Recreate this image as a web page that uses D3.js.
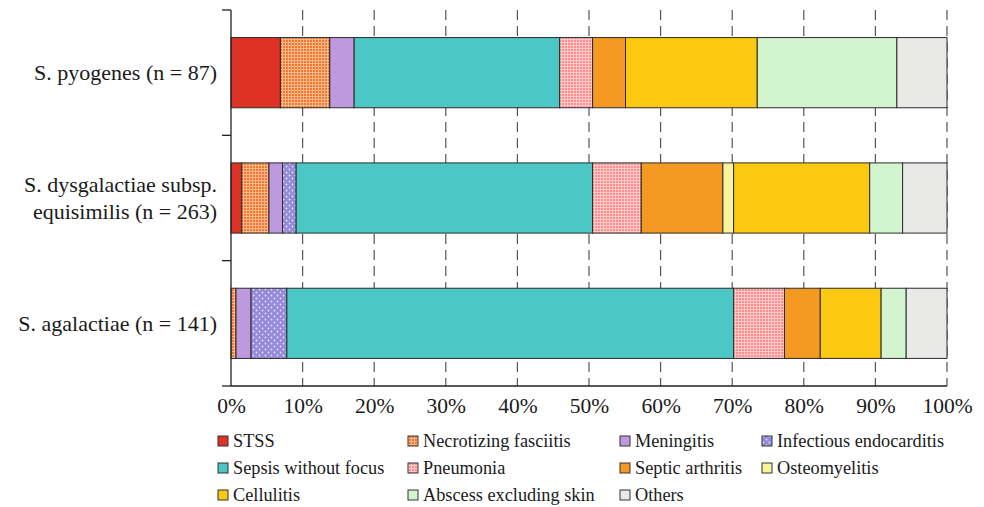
<!DOCTYPE html>
<html>
<head>
<meta charset="utf-8">
<script src="https://cdn.jsdelivr.net/npm/d3@7"></script>
<style>
  body { margin: 0; background: #fff; }
  svg text { font-family: "Liberation Serif", "Times New Roman", Times, serif; }
</style>
</head>
<body>
<div id="chart"></div>
<script>
// Data (percent of isolates per clinical presentation)
const categories = ["STSS", "Necrotizing fasciitis", "Meningitis", "Infectious endocarditis",
  "Sepsis without focus", "Pneumonia", "Septic arthritis", "Osteomyelitis",
  "Cellulitis", "Abscess excluding skin", "Others"];
const groups = ["pyogenes", "dysgalactiae", "agalactiae"];
const groupLabels = [["S. pyogenes (n = 87)"], ["S. dysgalactiae subsp.", "equisimilis (n = 263)"], ["S. agalactiae (n = 141)"]];
const pyogenes     = [6.9, 6.9, 3.4, 0.0, 28.7, 4.6, 4.6, 0.0, 18.4, 19.5, 7.0];
const dysgalactiae = [1.5, 3.8, 1.9, 1.9, 41.4, 6.8, 11.4, 1.5, 19.0, 4.6, 6.2];
const agalactiae   = [0.0, 0.7, 2.1, 5.0, 62.4, 7.1, 5.0, 0.0, 8.5, 3.5, 5.7];
const xTicks = [0, 10, 20, 30, 40, 50, 60, 70, 80, 90, 100];

const colors = ["#de3224", "url(#pNecro)", "#bf99de", "url(#pEndo)", "#4bc7c5", "url(#pPneu)",
  "#f49922", "#f7f49b", "#fbc912", "#d2f4cf", "#e9e9e8"];

const width = 984, height = 507;
const margin = { top: 10, left: 231, right: 35, bottom: 121 };
const serif = '"Liberation Serif", "Times New Roman", Times, serif';

const svg = d3.select('#chart').append('svg')
  .attr('width', width)
  .attr('height', height)
  .attr('font-family', serif);

// patterns
const defs = svg.append('defs');
function gridPattern(id, base, light, size) {
  const p = defs.append('pattern').attr('id', id)
    .attr('patternUnits', 'userSpaceOnUse').attr('width', size).attr('height', size);
  p.append('rect').attr('width', size).attr('height', size).attr('fill', base);
  p.append('rect').attr('x', 0).attr('y', 0).attr('width', size).attr('height', 1).attr('fill', light);
  p.append('rect').attr('x', 0).attr('y', 0).attr('width', 1).attr('height', size).attr('fill', light);
}
gridPattern('pNecro', '#f3772f', '#fbb88a', 3);
gridPattern('pPneu', '#ff8c8c', '#ffcaca', 3);
const endo = defs.append('pattern').attr('id', 'pEndo')
  .attr('patternUnits', 'userSpaceOnUse').attr('width', 6).attr('height', 6);
endo.append('rect').attr('width', 6).attr('height', 6).attr('fill', '#958ad9');
endo.append('circle').attr('cx', 1.5).attr('cy', 1.5).attr('r', 0.9).attr('fill', '#e4e0f6');
endo.append('circle').attr('cx', 4.5).attr('cy', 4.5).attr('r', 0.9).attr('fill', '#e4e0f6');

const scaleX = d3.scaleLinear()
  .domain([0, 100])
  .range([margin.left, width - margin.right - 2]);

const scaleY = d3.scaleBand()
  .domain(groups)
  .range([margin.top, height - margin.bottom])
  .paddingInner(0.44)
  .paddingOuter(0.22);

const plotBottom = height - margin.bottom;

// dashed grid (behind bars)
svg.append('g')
  .selectAll('line')
  .data(xTicks.slice(1))
  .join('line')
  .attr('x1', d => scaleX(d)).attr('x2', d => scaleX(d))
  .attr('y1', margin.top).attr('y2', plotBottom)
  .attr('stroke', '#555')
  .attr('stroke-width', 1.2)
  .attr('stroke-dasharray', '10,6');

// stacked bars
const table = groups.map((g, i) => {
  const row = { group: g };
  const vals = [pyogenes, dysgalactiae, agalactiae][i];
  categories.forEach((c, j) => row[c] = vals[j]);
  return row;
});
const stacked = d3.stack().keys(categories)(table);

svg.append('g')
  .selectAll('g')
  .data(stacked)
  .join('g')
  .attr('fill', (d, i) => colors[i])
  .selectAll('rect')
  .data(d => d.filter(s => s[1] - s[0] > 0))
  .join('rect')
  .attr('x', d => scaleX(d[0]))
  .attr('width', d => scaleX(d[1]) - scaleX(d[0]))
  .attr('y', d => scaleY(d.data.group))
  .attr('height', scaleY.bandwidth())
  .attr('stroke', '#2b2b2b')
  .attr('stroke-width', 1);

// left axis with ticks on band boundaries
const axisColor = '#222';
svg.append('line')
  .attr('x1', margin.left).attr('x2', margin.left)
  .attr('y1', margin.top).attr('y2', plotBottom)
  .attr('stroke', axisColor).attr('stroke-width', 1.3);
const step = scaleY.step();
svg.append('g')
  .selectAll('line')
  .data([0, 1, 2, 3])
  .join('line')
  .attr('x1', margin.left - 9).attr('x2', margin.left)
  .attr('y1', i => margin.top + i * step).attr('y2', i => margin.top + i * step)
  .attr('stroke', axisColor).attr('stroke-width', 1.3);

// bottom axis
const axisB = svg.append('g')
  .attr('transform', `translate(0, ${plotBottom})`)
  .call(d3.axisBottom(scaleX).tickValues(xTicks).tickSize(0).tickPadding(12).tickFormat(d => d + '%'));
axisB.attr('font-family', serif).attr('font-size', 21.5);
axisB.select('.domain').remove();
axisB.selectAll('text')
  .attr('fill', '#1a1a1a');
svg.append('line')
  .attr('x1', margin.left).attr('x2', scaleX(100))
  .attr('y1', plotBottom).attr('y2', plotBottom)
  .attr('stroke', axisColor).attr('stroke-width', 1.3);

// group labels
const labelG = svg.append('g');
groups.forEach((g, i) => {
  const lines = groupLabels[i];
  const cy = scaleY(g) + scaleY.bandwidth() / 2;
  lines.forEach((t, k) => {
    labelG.append('text')
      .attr('x', margin.left - 14)
      .attr('y', cy + (k - (lines.length - 1) / 2) * 27)
      .attr('dy', '0.35em')
      .attr('text-anchor', 'end')
      .attr('font-size', 22)
      .attr('fill', '#1a1a1a')
      .text(t);
  });
});

// legend
const legendX = [218, 408, 620, 762];
const legendY = [441, 468, 495];
const legend = svg.append('g')
  .selectAll('g')
  .data(categories)
  .join('g')
  .attr('transform', (d, i) => `translate(${legendX[i % 4]}, ${legendY[Math.floor(i / 4)]})`);
legend.append('rect')
  .attr('x', 0).attr('y', -5)
  .attr('width', 10).attr('height', 10)
  .attr('fill', (d, i) => colors[i])
  .attr('stroke', '#333').attr('stroke-width', 1);
legend.append('text')
  .attr('x', 15)
  .attr('dy', '0.35em')
  .attr('font-size', 18.3)
  .attr('fill', '#1a1a1a')
  .text(d => d);
</script>
</body>
</html>
